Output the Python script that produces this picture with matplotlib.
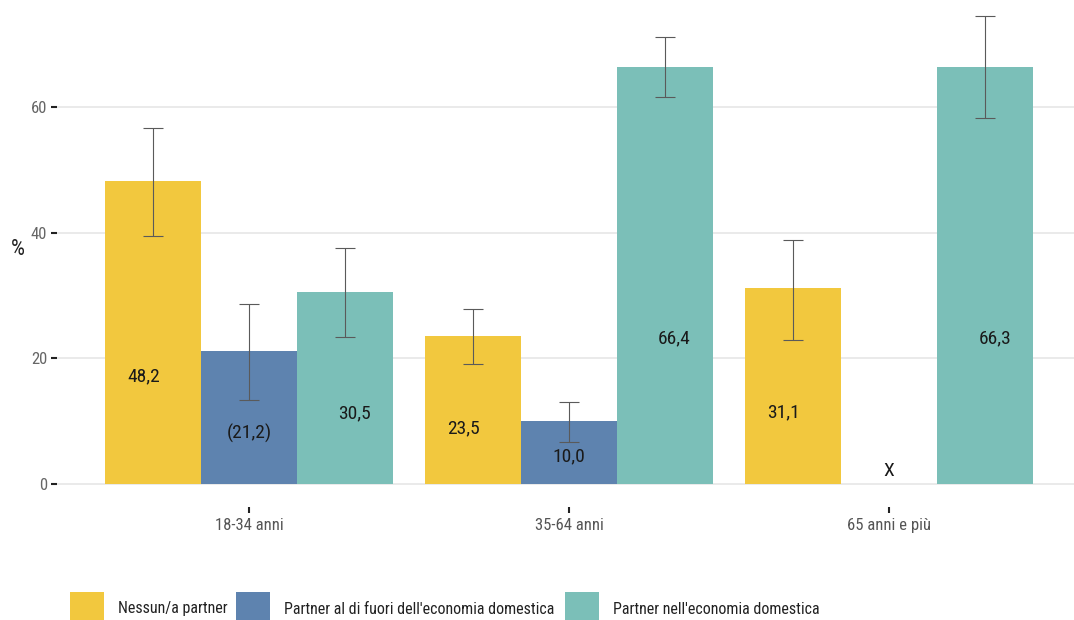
import matplotlib
matplotlib.use("Agg")
import matplotlib.pyplot as plt
import numpy as np
from matplotlib.patches import Rectangle

plt.rcParams["font.family"] = ["Roboto Condensed", "Liberation Sans Narrow", "Roboto"]
plt.rcParams["font.stretch"] = "condensed"

GROUPS = ["18-34 anni", "35-64 anni", "65 anni e più"]
SERIES = [
    "Nessun/a partner",
    "Partner al di fuori dell'economia domestica",
    "Partner nell'economia domestica",
]
COLORS = ["#F2C83E", "#5E83AF", "#7BBFB8"]

# values per series (None = no data shown as X)
VALUES = [
    [48.2, 23.5, 31.1],
    [21.2, 10.0, None],
    [30.5, 66.4, 66.3],
]
LOWER = [
    [39.5, 19.1, 22.9],
    [13.4, 6.7, None],
    [23.4, 61.6, 58.3],
]
UPPER = [
    [56.7, 27.8, 38.8],
    [28.6, 13.05, None],
    [37.6, 71.1, 74.5],
]
LABELS = [
    ["48,2", "23,5", "31,1"],
    ["(21,2)", "10,0", "X"],
    ["30,5", "66,4", "66,3"],
]

FW, FH = 1074, 620
fig = plt.figure(figsize=(FW / 100, FH / 100), dpi=100)
ax = fig.add_axes([57 / FW, 113 / FH, 1 - 57 / FW, 507 / FH])

x = np.arange(1, len(GROUPS) + 1)
bw = 0.3
for i, name in enumerate(SERIES):
    off = (i - 1) * bw
    loff = (i - 1) * 0.33
    for j in range(len(GROUPS)):
        v = VALUES[i][j]
        if v is None:
            ax.text(x[j] + off, 0.6, LABELS[i][j], ha="center", va="bottom",
                    fontsize=14, color="#1a1a1a")
            continue
        ax.bar(x[j] + off, v, width=bw, color=COLORS[i], zorder=2)
        ax.errorbar(x[j] + off, v, yerr=[[v - LOWER[i][j]], [UPPER[i][j] - v]],
                    fmt="none", ecolor="#5a5a5a", elinewidth=0.8, capsize=7.5,
                    capthick=0.8, zorder=3)
        ax.text(x[j] + loff, v / 3 + 1, LABELS[i][j], ha="center", va="center",
                fontsize=14, color="#1a1a1a", zorder=4)

ax.set_xlim(0.4, 3.578)
ax.set_ylim(-3.7, 77.03)
ax.set_yticks([0, 20, 40, 60])
ax.set_xticks(x)
ax.set_xticklabels(GROUPS)
ax.grid(axis="y", color="#e8e8e8", linewidth=1.3, zorder=0)
ax.set_axisbelow(True)
for s in ax.spines.values():
    s.set_visible(False)
ax.tick_params(axis="y", length=4, width=1.5, color="#222222", labelcolor="#666666",
               labelsize=12, pad=3)
ax.tick_params(axis="x", length=4, width=1.5, color="#222222", labelcolor="#555555",
               labelsize=12, pad=4)
ax.set_ylabel("%", rotation=0, fontsize=16, color="#222222", va="center")
ax.yaxis.set_label_coords(-39 / 1017, (484 - 250) / 507 + 3.7 * 6.283 / 507)

# legend drawn along the bottom edge, keys partly cut off as in the source
key_x = [70, 236, 565]
for k, (label, color) in enumerate(zip(SERIES, COLORS)):
    fig.patches.append(Rectangle((key_x[k] / FW, (FH - 592 - 34) / FH), 34 / FW, 34 / FH,
                                 transform=fig.transFigure, facecolor=color,
                                 edgecolor="none"))
    fig.text((key_x[k] + 48) / FW, (FH - 609) / FH, label, ha="left", va="center",
             fontsize=11.5, color="#222222")

fig.savefig("out.png", dpi=100, facecolor="white")
